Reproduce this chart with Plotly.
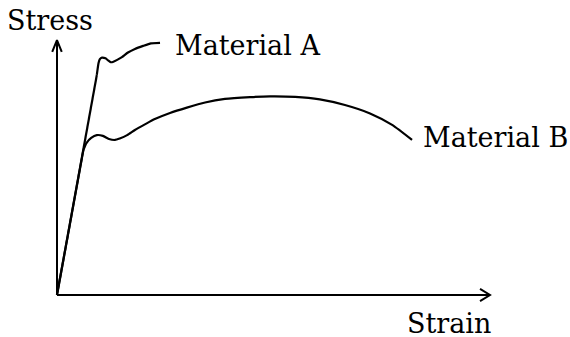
import plotly.graph_objects as go

# stress-strain sketch, unitless (strain 0..1 along arrow, stress 0..1 up the arrow)
strain_a = [0.000, 0.092, 0.096, 0.099, 0.104, 0.112, 0.118, 0.124, 0.129,
            0.139, 0.150, 0.164, 0.180, 0.199, 0.217, 0.238]
stress_a = [0.000, 0.863, 0.910, 0.925, 0.931, 0.928, 0.920, 0.913, 0.914,
            0.922, 0.933, 0.951, 0.965, 0.977, 0.987, 0.989]

strain_b = [0.000, 0.061, 0.068, 0.079, 0.092, 0.106, 0.120, 0.134, 0.145,
            0.162, 0.180, 0.203, 0.226, 0.261, 0.300, 0.342, 0.388, 0.446,
            0.492, 0.550, 0.607, 0.665, 0.723, 0.774, 0.820]
stress_b = [0.000, 0.569, 0.596, 0.616, 0.627, 0.624, 0.612, 0.608, 0.614,
            0.627, 0.647, 0.669, 0.690, 0.714, 0.735, 0.755, 0.769, 0.776,
            0.779, 0.777, 0.767, 0.745, 0.712, 0.667, 0.608]

labels = ["Material A", "Material B"]
axis_titles = ["Strain", "Stress"]

x_end = 1.0
y_end = 1.0
# arrow head size in data units
hx, hy = 0.023, 0.024   # x-axis head: back, half-width
vx, vy = 0.011, 0.047   # y-axis head: half-width, back

FONT = "DejaVu Serif"
ink = "black"
lw = 2.2

fig = go.Figure()

# axes with open chevron heads
fig.add_trace(go.Scatter(
    x=[0, x_end, None, x_end - hx, x_end, x_end - hx],
    y=[0, 0, None, hy, 0, -hy],
    mode="lines", line=dict(color=ink, width=2), hoverinfo="skip"))
fig.add_trace(go.Scatter(
    x=[0, 0, None, -vx, 0, vx],
    y=[0, y_end, None, y_end - vy, y_end, y_end - vy],
    mode="lines", line=dict(color=ink, width=2), hoverinfo="skip"))

# each curve: straight elastic part, then a smooth curve past the yield point
for xs, ys, sm in [(strain_a, stress_a, 0.5), (strain_b, stress_b, 0.6)]:
    fig.add_trace(go.Scatter(x=xs[:2], y=ys[:2], mode="lines",
                             line=dict(color=ink, width=lw)))
    fig.add_trace(go.Scatter(x=xs[1:], y=ys[1:], mode="lines",
                             line=dict(color=ink, width=lw, shape="spline", smoothing=sm)))

txt = dict(family=FONT, size=27, color=ink)
fig.add_annotation(x=strain_a[-1] + 0.03, y=stress_a[-1] - 0.01, text=labels[0],
                   xanchor="left", yanchor="middle", showarrow=False, font=txt)
fig.add_annotation(x=strain_b[-1] + 0.02, y=stress_b[-1] + 0.008, text=labels[1],
                   xanchor="left", yanchor="middle", showarrow=False, font=txt)
fig.add_annotation(x=0.905, y=-0.112, text=axis_titles[0],
                   xanchor="center", yanchor="middle", showarrow=False, font=txt)
fig.add_annotation(x=-0.016, y=1.078, text=axis_titles[1],
                   xanchor="center", yanchor="middle", showarrow=False, font=txt)

fig.update_layout(
    width=570, height=337,
    margin=dict(l=0, r=0, t=0, b=0),
    paper_bgcolor="white", plot_bgcolor="white",
    showlegend=False,
    xaxis=dict(range=[-0.1316, 1.1848], visible=False, fixedrange=True),
    yaxis=dict(range=[-0.1647, 1.1569], visible=False, fixedrange=True),
)

# drop the page's default body margin so the figure sits at the window corner
fig.write_html("out.html", post_script="document.body.style.margin='0';",
               config={"displayModeBar": False})
